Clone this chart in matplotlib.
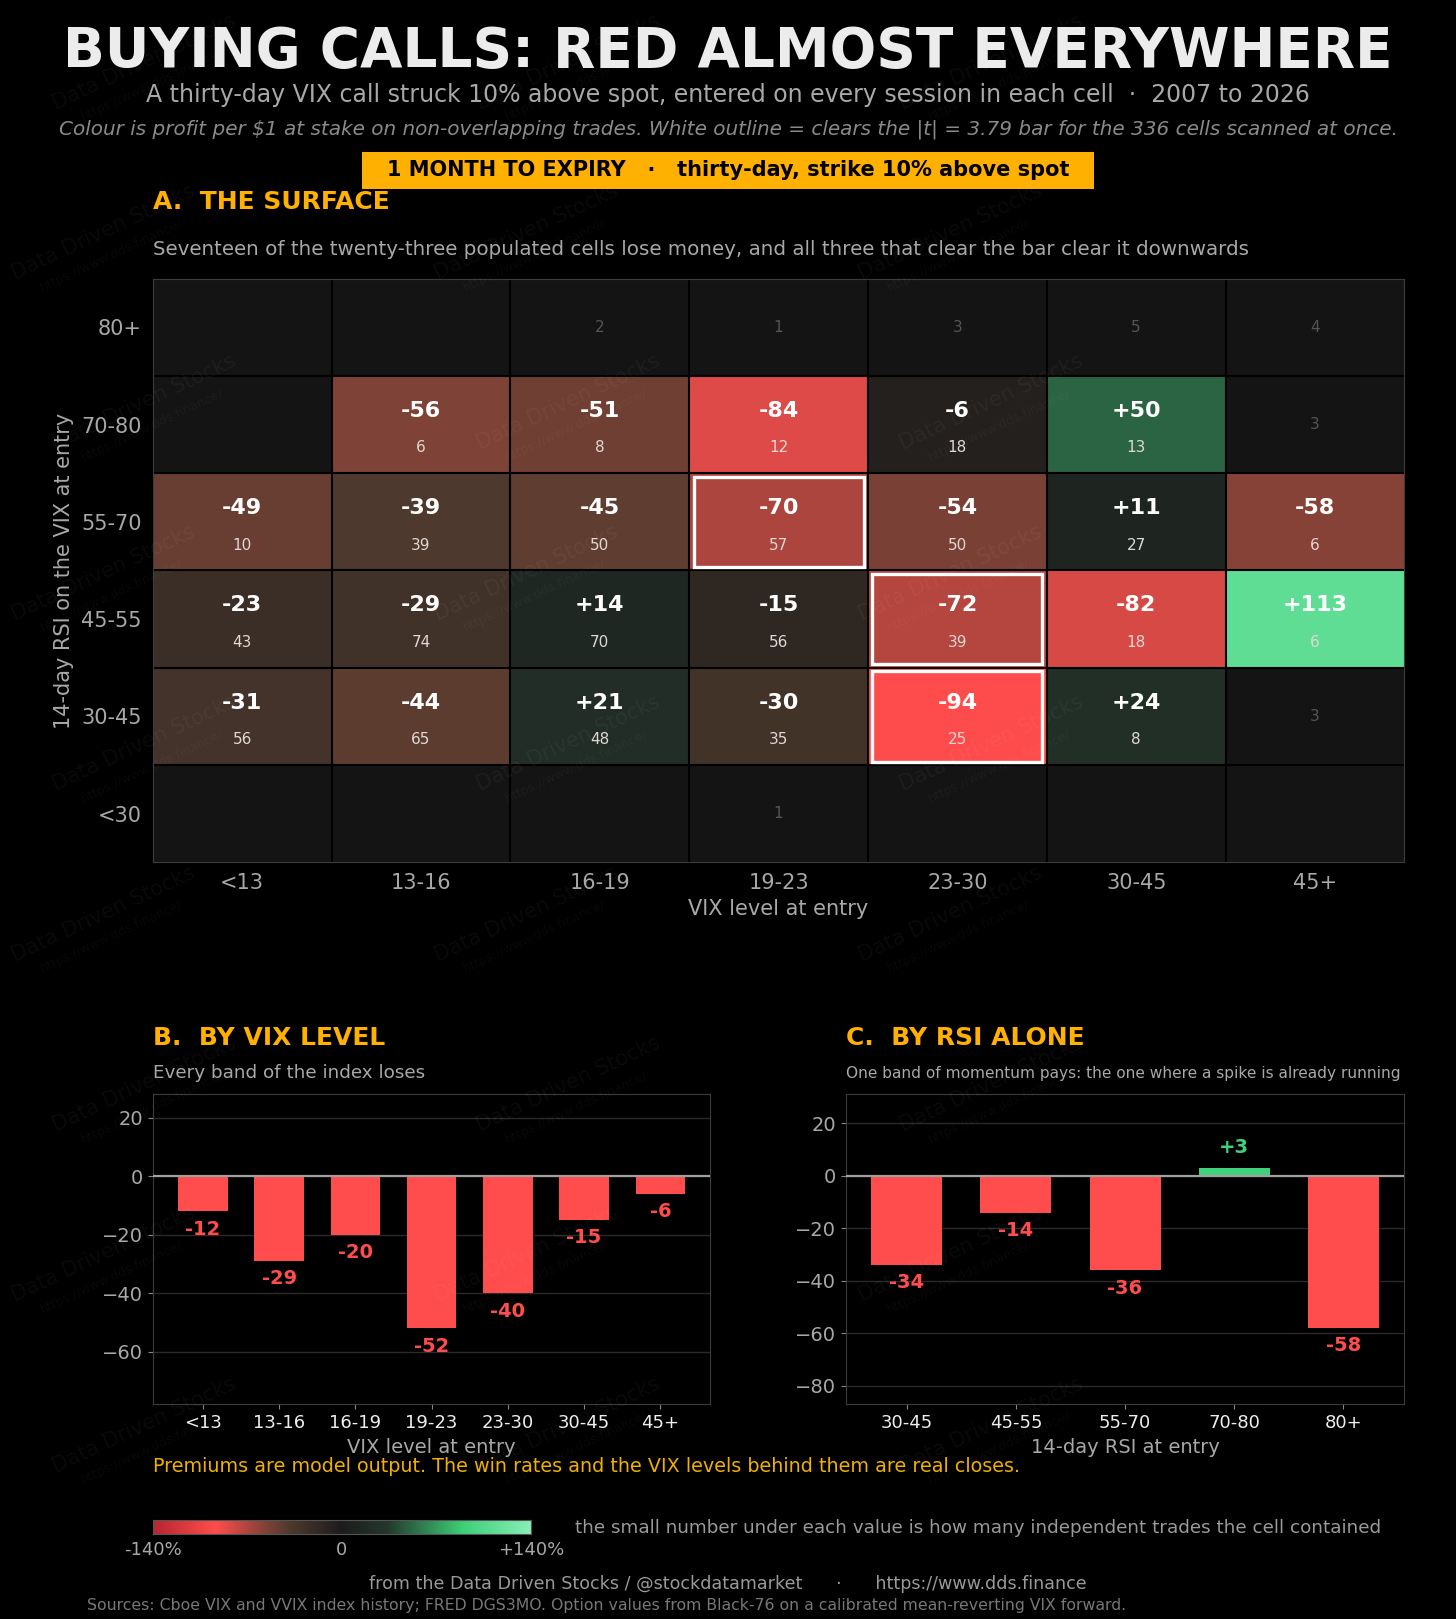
import numpy as np
import matplotlib
matplotlib.use("Agg")
import matplotlib.pyplot as plt
from matplotlib.colors import LinearSegmentedColormap
from matplotlib.patches import Rectangle

# ---- data ----
vix_bands = ["<13", "13-16", "16-19", "19-23", "23-30", "30-45", "45+"]
rsi_bands = ["80+", "70-80", "55-70", "45-55", "30-45", "<30"]   # top to bottom

nan = np.nan
surface = [
    [nan, nan, nan, nan, nan, nan, nan],
    [nan, -56, -51, -84, -6, 50, nan],
    [-49, -39, -45, -70, -54, 11, -58],
    [-23, -29, 14, -15, -72, -82, 113],
    [-31, -44, 21, -30, -94, 24, nan],
    [nan, nan, nan, nan, nan, nan, nan],
]
trades = [
    [0, 0, 2, 1, 3, 5, 4],
    [0, 6, 8, 12, 18, 13, 3],
    [10, 39, 50, 57, 50, 27, 6],
    [43, 74, 70, 56, 39, 18, 6],
    [56, 65, 48, 35, 25, 8, 3],
    [0, 0, 0, 1, 0, 0, 0],
]
# cells clearing the |t| bar: (row, col)
significant = [(2, 3), (3, 4), (4, 4)]

by_vix = [-12, -29, -20, -52, -40, -15, -6]
rsi_alone_bands = ["30-45", "45-55", "55-70", "70-80", "80+"]
by_rsi = [-34, -14, -36, 3, -58]

BG = "#000000"
YEL = "#ffb000"
RED = "#ff4d4d"
GRN = "#3fd27c"
GREY = "#a8a8a8"

cmap = LinearSegmentedColormap.from_list("pnl", [
    (0.0, "#b8252f"), (0.165, "#ff4d4d"), (0.30, "#7e4236"),
    (0.36, "#4e3a2e"), (0.5, "#1c1c1c"), (0.62, "#24382d"),
    (0.82, "#3ccf78"), (1.0, "#88eeb6")])
cmap.set_bad("#141414")

fig = plt.figure(figsize=(14.56, 16.19), dpi=100, facecolor=BG)

# layout measured on a 1410 x 1568 view of the page
def fx(x):
    return x / 1410


def fy(y):
    return 1 - y / 1568


# watermark
for j, yy in enumerate(range(60, 1540, 165)):
    off = 0 if j % 2 == 0 else -40
    for xx in range(140 + off, 1300, 410):
        fig.text(fx(xx), fy(yy), "Data Driven Stocks", color="white", alpha=0.045,
                 fontsize=15, rotation=25, ha="center", va="center")
        fig.text(fx(xx + 8), fy(yy + 22), "https://www.dds.finance/", color="white",
                 alpha=0.04, fontsize=9, rotation=25, ha="center", va="center")

# ---- header ----
fig.text(fx(705), fy(50), "BUYING CALLS: RED ALMOST EVERYWHERE", color="#ececec",
         fontsize=39.5, fontweight="bold", ha="center", va="center")
fig.text(fx(705), fy(92), "A thirty-day VIX call struck 10% above spot, entered on every session in each cell  \u00b7  2007 to 2026",
         color=GREY, fontsize=17, ha="center", va="center")
fig.text(fx(705), fy(125), "Colour is profit per $1 at stake on non-overlapping trades. White outline = clears the |t| = 3.79 bar for the 336 cells scanned at once.",
         color="#8a8a8a", fontsize=14.4, style="italic", ha="center", va="center")
fig.patches.append(Rectangle((fx(351), fy(183)), fx(1059) - fx(351), fy(147) - fy(183),
                             transform=fig.transFigure, fc=YEL, ec="none"))
fig.text(fx(705), fy(165), "1 MONTH TO EXPIRY   \u00b7   thirty-day, strike 10% above spot",
         color="#000000", fontsize=15, fontweight="bold", ha="center", va="center")
fig.text(fx(148), fy(196), "A.  THE SURFACE", color=YEL, fontsize=18, fontweight="bold",
         ha="left", va="center")
fig.text(fx(148), fy(242), "Seventeen of the twenty-three populated cells lose money, and all three that clear the bar clear it downwards",
         color=GREY, fontsize=14.3, ha="left", va="center")

# ---- A. heatmap ----
ax = fig.add_axes([fx(148), fy(835), fx(1360) - fx(148), fy(270) - fy(835)])
ax.set_facecolor("#141414")
vals = np.ma.masked_invalid(np.array(surface, dtype=float))
ax.imshow(vals, cmap=cmap, vmin=-140, vmax=140, aspect="auto",
          extent=(-0.5, 6.5, 5.5, -0.5), interpolation="nearest")
for k in range(1, 7):
    ax.axvline(k - 0.5, color="#000000", lw=1.5)
for k in range(1, 6):
    ax.axhline(k - 0.5, color="#000000", lw=1.5)
for r in range(len(rsi_bands)):
    for c in range(len(vix_bands)):
        v = surface[r][c]
        n = trades[r][c]
        if not np.isnan(v):
            ax.text(c, r - 0.14, f"{int(v):+d}" if v > 0 else f"{int(v)}",
                    color="white", fontsize=16, fontweight="bold", ha="center", va="center")
            ax.text(c, r + 0.24, str(n), color="#e0d8d4", fontsize=11,
                    ha="center", va="center")
        elif n > 0:
            ax.text(c, r, str(n), color="#555555", fontsize=11, ha="center", va="center")
for r, c in significant:
    ax.add_patch(Rectangle((c - 0.5 + 0.025, r - 0.5 + 0.035), 0.95, 0.93,
                           fill=False, ec="white", lw=2.4, zorder=5))
ax.set_xlim(-0.5, 6.5)
ax.set_ylim(5.5, -0.5)
ax.set_xticks(range(7))
ax.set_xticklabels(vix_bands)
ax.set_yticks(range(6))
ax.set_yticklabels(rsi_bands)
ax.tick_params(length=0, labelsize=15, colors=GREY, pad=8)
ax.set_xlabel("VIX level at entry", color=GREY, fontsize=15, labelpad=4)
ax.set_ylabel("14-day RSI on the VIX at entry", color=GREY, fontsize=15, labelpad=5)
for s in ax.spines.values():
    s.set_color("#3c3c3c")


def bar_panel(rect, labels, values, xlabel):
    b = fig.add_axes(rect)
    b.set_facecolor(BG)
    x = np.arange(len(values))
    cols = [GRN if v > 0 else RED for v in values]
    b.bar(x, values, width=0.65, color=cols, zorder=3)
    b.axhline(0, color="#a0a0a0", lw=1.6, zorder=4)
    b.set_ylim(min(values) * 1.5, max(0, max(values)) + 28)
    b.yaxis.grid(True, color="#2a2a2a", lw=1)
    b.set_axisbelow(True)
    for xi, v in zip(x, values):
        if v > 0:
            b.annotate(f"+{v}", (xi, v), xytext=(0, 8), textcoords="offset points",
                       ha="center", va="bottom", color=GRN, fontsize=14, fontweight="bold")
        else:
            b.annotate(f"{v}", (xi, v), xytext=(0, -6), textcoords="offset points",
                       ha="center", va="top", color=RED, fontsize=14, fontweight="bold")
    b.set_xticks(x)
    b.set_xticklabels(labels)
    b.tick_params(axis="x", colors="#888888", labelcolor="#eeeeee", labelsize=13)
    b.tick_params(axis="y", colors="#888888", labelcolor=GREY, labelsize=14)
    b.set_xlabel(xlabel, color=GREY, fontsize=14, labelpad=4)
    for s in b.spines.values():
        s.set_color("#3c3c3c")
    return b


bar_panel([fx(148), fy(1360), fx(688) - fx(148), fy(1060) - fy(1360)],
          vix_bands, by_vix, "VIX level at entry")
fig.text(fx(148), fy(1005), "B.  BY VIX LEVEL", color=YEL, fontsize=18, fontweight="bold",
         ha="left", va="center")
fig.text(fx(148), fy(1039), "Every band of the index loses", color=GREY, fontsize=13.2,
         ha="left", va="center")

bar_panel([fx(819), fy(1360), fx(1360) - fx(819), fy(1060) - fy(1360)],
          rsi_alone_bands, by_rsi, "14-day RSI at entry")
fig.text(fx(819), fy(1005), "C.  BY RSI ALONE", color=YEL, fontsize=18, fontweight="bold",
         ha="left", va="center")
fig.text(fx(819), fy(1040), "One band of momentum pays: the one where a spike is already running",
         color=GREY, fontsize=11.1, ha="left", va="center")

# ---- footer ----
fig.text(fx(148), fy(1420), "Premiums are model output. The win rates and the VIX levels behind them are real closes.",
         color="#f0b000", fontsize=13.8, ha="left", va="center")

cax = fig.add_axes([fx(148), fy(1486), fx(514) - fx(148), fy(1472) - fy(1486)])
cax.imshow(np.linspace(-140, 140, 256)[None, :], cmap=cmap, vmin=-140, vmax=140,
           aspect="auto", extent=(-140, 140, 0, 1))
cax.set_xticks([])
cax.set_yticks([])
for s in cax.spines.values():
    s.set_color("#555555")
fig.text(fx(148), fy(1501), "-140%", color=GREY, fontsize=13, ha="center", va="center")
fig.text(fx(331), fy(1501), "0", color=GREY, fontsize=13, ha="center", va="center")
fig.text(fx(514), fy(1501), "+140%", color=GREY, fontsize=13, ha="center", va="center")
fig.text(fx(557), fy(1480), "the small number under each value is how many independent trades the cell contained",
         color="#9a9a9a", fontsize=13.2, ha="left", va="center")

fig.text(fx(705), fy(1534), "from the Data Driven Stocks / @stockdatamarket      \u00b7      https://www.dds.finance",
         color="#999999", fontsize=12.6, ha="center", va="center")
fig.text(fx(587), fy(1555), "Sources: Cboe VIX and VVIX index history; FRED DGS3MO. Option values from Black-76 on a calibrated mean-reverting VIX forward.",
         color="#777777", fontsize=11.3, ha="center", va="center")

fig.savefig("out.png", dpi=100, facecolor=BG)
